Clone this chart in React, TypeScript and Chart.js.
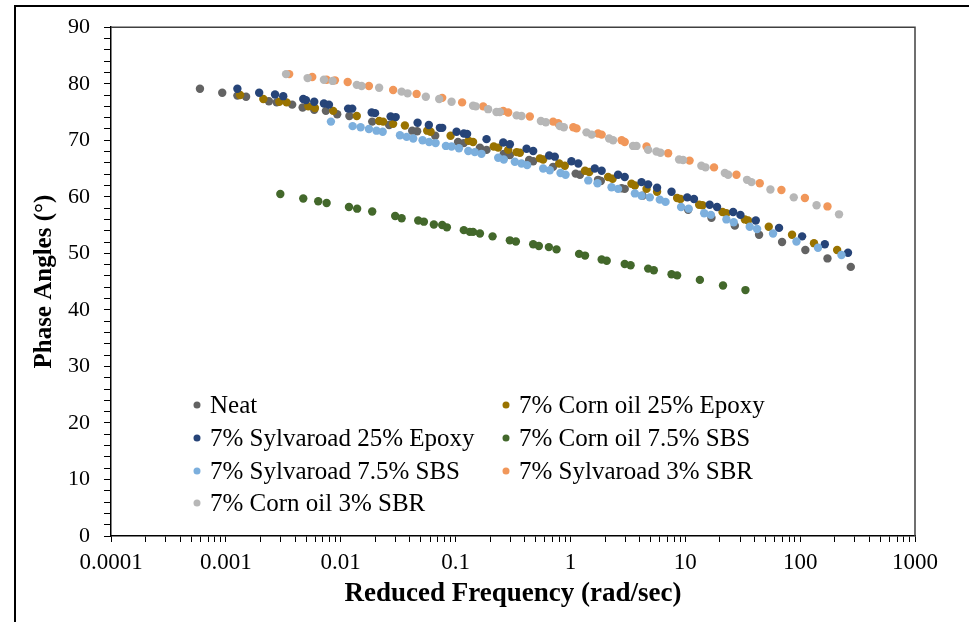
import React, { useEffect, useRef } from "react";
import { Chart, registerables } from "chart.js";

Chart.register(...registerables);

const FONT = '"Liberation Serif", "Times New Roman", serif';

const seriesNames = [
  "Neat",
  "7% Corn oil 25% Epoxy",
  "7% Sylvaroad 25% Epoxy",
  "7% Corn oil 7.5% SBS",
  "7% Sylvaroad 7.5% SBS",
  "7% Sylvaroad 3% SBR",
  "7% Corn oil 3% SBR",
];
const seriesColors = ["#636363", "#997300", "#264478", "#43682B", "#7CAFDD", "#F1975A", "#B7B7B7"];

const neatX = [0.000595, 0.00093, 0.00126, 0.0015, 0.00237, 0.00277, 0.00378, 0.00466, 0.00588, 0.00743, 0.00932, 0.0119, 0.0188, 0.0264, 0.0419, 0.0463, 0.0665, 0.105, 0.118, 0.163, 0.186, 0.263, 0.297, 0.437, 0.474, 0.707, 1.11, 1.21, 1.74, 1.84, 2.79, 2.97, 4.24, 10.6, 16.9, 27.0, 43.9, 69.6, 111, 173, 276];
const neatY = [79.1, 78.4, 77.9, 77.7, 76.9, 76.7, 76.3, 75.8, 75.4, 75.2, 74.6, 74.3, 73.3, 72.7, 71.7, 71.6, 70.8, 69.7, 69.5, 68.7, 68.3, 67.6, 67.4, 66.5, 66.3, 65.3, 64.1, 63.9, 63.0, 62.8, 61.5, 61.4, 60.2, 57.7, 56.3, 54.9, 53.3, 52.0, 50.6, 49.1, 47.6];

const cornEpoxyX = [0.00133, 0.00212, 0.00292, 0.00338, 0.00522, 0.00596, 0.0086, 0.0138, 0.0216, 0.0234, 0.0286, 0.0362, 0.0566, 0.0606, 0.0905, 0.130, 0.142, 0.215, 0.235, 0.287, 0.340, 0.363, 0.542, 0.579, 0.798, 0.894, 1.34, 1.46, 2.13, 2.33, 3.40, 3.64, 4.60, 5.68, 8.49, 9.08, 13.2, 14.1, 21.1, 22.8, 33.0, 35.2, 53.3, 85.0, 132, 210];
const cornEpoxyY = [78.0, 77.3, 76.8, 76.7, 76.0, 75.7, 75.2, 74.3, 73.4, 73.3, 72.9, 72.6, 71.7, 71.5, 70.8, 69.9, 69.7, 68.9, 68.7, 68.3, 67.9, 67.8, 66.8, 66.6, 65.9, 65.5, 64.6, 64.4, 63.5, 63.2, 62.3, 62.0, 61.4, 60.9, 59.8, 59.6, 58.6, 58.5, 57.3, 57.1, 56.0, 55.8, 54.7, 53.3, 51.8, 50.6];

const sylEpoxyX = [0.00126, 0.00195, 0.00268, 0.00316, 0.00472, 0.00498, 0.00588, 0.00714, 0.0079, 0.0116, 0.0126, 0.0186, 0.0199, 0.0272, 0.0301, 0.0467, 0.0585, 0.0730, 0.0765, 0.102, 0.118, 0.126, 0.186, 0.260, 0.297, 0.415, 0.474, 0.653, 0.731, 1.02, 1.17, 1.63, 1.87, 2.60, 2.97, 4.16, 4.75, 5.68, 7.59, 10.4, 11.9, 16.3, 18.9, 26.1, 30.2, 41.1, 65.5, 104, 164, 261];
const sylEpoxyY = [79.1, 78.4, 78.1, 77.8, 77.3, 77.1, 76.8, 76.5, 76.3, 75.6, 75.6, 74.9, 74.8, 74.2, 74.1, 73.1, 72.7, 72.2, 72.2, 71.5, 71.2, 71.1, 70.2, 69.6, 69.3, 68.5, 68.1, 67.3, 67.1, 66.3, 65.9, 65.0, 64.6, 63.9, 63.5, 62.6, 62.2, 61.6, 60.9, 59.9, 59.6, 58.6, 58.2, 57.3, 56.8, 55.8, 54.5, 53.0, 51.6, 50.1];

const cornSbsX = [0.00298, 0.00472, 0.00637, 0.00754, 0.0118, 0.0139, 0.0188, 0.0298, 0.0339, 0.0473, 0.0530, 0.0647, 0.0765, 0.0840, 0.118, 0.133, 0.142, 0.163, 0.210, 0.297, 0.335, 0.474, 0.531, 0.649, 0.757, 1.19, 1.34, 1.87, 2.07, 2.97, 3.34, 4.75, 5.32, 7.59, 8.49, 13.4, 21.3, 33.4];
const cornSbsY = [60.5, 59.7, 59.2, 58.9, 58.2, 57.9, 57.4, 56.6, 56.2, 55.8, 55.6, 55.1, 55.0, 54.6, 54.1, 53.8, 53.8, 53.5, 53.0, 52.3, 52.1, 51.6, 51.3, 51.1, 50.7, 49.9, 49.6, 48.9, 48.7, 48.1, 47.9, 47.3, 47.0, 46.3, 46.1, 45.3, 44.3, 43.5];

const sylSbsX = [0.00822, 0.0127, 0.0149, 0.0176, 0.0205, 0.0232, 0.0328, 0.0375, 0.0428, 0.0516, 0.0589, 0.0670, 0.0824, 0.0923, 0.107, 0.129, 0.147, 0.168, 0.235, 0.263, 0.328, 0.375, 0.420, 0.579, 0.662, 0.820, 0.907, 1.43, 1.72, 2.28, 2.60, 3.64, 4.16, 4.91, 6.00, 6.73, 9.19, 10.7, 14.6, 16.7, 22.8, 26.4, 36.4, 42.2, 58.1, 92.9, 143, 229];
const sylSbsY = [73.3, 72.5, 72.3, 72.0, 71.7, 71.5, 70.9, 70.6, 70.3, 70.0, 69.7, 69.5, 69.0, 68.9, 68.6, 68.1, 67.9, 67.6, 66.9, 66.6, 66.2, 65.9, 65.6, 65.0, 64.7, 64.2, 63.9, 62.9, 62.4, 61.7, 61.4, 60.6, 60.2, 59.9, 59.5, 59.1, 58.2, 57.9, 57.1, 56.8, 56.0, 55.5, 54.7, 54.3, 53.5, 52.1, 51.0, 49.7];

const sylSbrX = [0.00356, 0.00565, 0.00754, 0.0089, 0.0115, 0.0176, 0.0286, 0.0458, 0.0765, 0.114, 0.174, 0.260, 0.287, 0.443, 0.707, 0.782, 1.06, 1.13, 1.74, 1.87, 2.79, 2.97, 4.60, 7.09, 10.9, 17.8, 27.9, 44.5, 68.7, 110, 173];
const sylSbrY = [81.7, 81.2, 80.7, 80.6, 80.3, 79.6, 78.9, 78.2, 77.5, 76.7, 76.0, 75.2, 74.9, 74.2, 73.3, 73.0, 72.3, 72.1, 71.2, 71.0, 70.0, 69.7, 68.9, 67.7, 66.4, 65.2, 63.9, 62.4, 61.2, 59.8, 58.3];

const cornSbrX = [0.00334, 0.00515, 0.00714, 0.0085, 0.0138, 0.0152, 0.0216, 0.0339, 0.0382, 0.0551, 0.0720, 0.0923, 0.142, 0.150, 0.192, 0.227, 0.243, 0.340, 0.375, 0.553, 0.611, 0.809, 0.876, 1.38, 1.53, 2.17, 2.35, 3.51, 3.76, 4.75, 5.61, 6.08, 8.83, 9.57, 13.8, 15.0, 22.1, 23.6, 34.5, 37.7, 55.1, 88.0, 139, 218];
const cornSbrY = [81.7, 81.0, 80.7, 80.5, 79.8, 79.6, 79.3, 78.6, 78.3, 77.7, 77.3, 76.8, 76.1, 76.0, 75.5, 75.0, 75.0, 74.4, 74.3, 73.4, 73.2, 72.5, 72.3, 71.4, 71.0, 70.3, 70.0, 69.0, 69.0, 68.3, 68.0, 67.8, 66.6, 66.5, 65.5, 65.2, 64.2, 63.9, 63.0, 62.6, 61.3, 59.9, 58.5, 56.9];

const seriesX = [neatX, cornEpoxyX, sylEpoxyX, cornSbsX, sylSbsX, sylSbrX, cornSbrX];
const seriesY = [neatY, cornEpoxyY, sylEpoxyY, cornSbsY, sylSbsY, sylSbrY, cornSbrY];

const xDecades = [0.0001, 0.001, 0.01, 0.1, 1, 10, 100, 1000];
const xDecadeLabels = ["0.0001", "0.001", "0.01", "0.1", "1", "10", "100", "1000"];
const yMin = 0;
const yMax = 90;
const yMajorStep = 10;
const yMinorStep = 2;

const xTickValues: number[] = [];
for (let d = 0; d < xDecades.length - 1; d++) {
  for (let k = 1; k <= 9; k++) xTickValues.push(k * xDecades[d]);
}
xTickValues.push(xDecades[xDecades.length - 1]);

const legendColX = [197, 506];
const legendRowY = [405, 438, 471, 503];

export default function App() {
  const ref = useRef<HTMLCanvasElement>(null);

  useEffect(() => {
    if (!ref.current) return;
    const datasets = seriesNames.map((name, i) => ({
      label: name,
      data: seriesX[i].map((x, j) => ({ x, y: seriesY[i][j] })),
      backgroundColor: seriesColors[i],
      borderColor: seriesColors[i],
      pointRadius: 4.2,
      pointHoverRadius: 4.2,
      pointBorderWidth: 0,
      showLine: false,
      order: -i,
    }));

    const legendPlugin = {
      id: "customLegend",
      afterDatasetsDraw(chart: any) {
        const ctx = chart.ctx;
        ctx.save();
        ctx.font = `25px ${FONT}`;
        ctx.textBaseline = "middle";
        ctx.textAlign = "left";
        chart.data.datasets.forEach((ds: any, i: number) => {
          const col = i % 2;
          const row = Math.floor(i / 2);
          const mx = legendColX[col];
          const my = legendRowY[row];
          ctx.fillStyle = ds.backgroundColor;
          ctx.beginPath();
          ctx.arc(mx, my, 3.5, 0, Math.PI * 2);
          ctx.fill();
          ctx.fillStyle = "#000";
          ctx.fillText(ds.label, mx + 13, my + 1);
        });
        ctx.restore();
      },
    };

    const framePlugin = {
      id: "plotFrame",
      afterDraw(chart: any) {
        const { left, top, right, bottom } = chart.chartArea;
        const ctx = chart.ctx;
        ctx.save();
        ctx.strokeStyle = "#404040";
        ctx.lineWidth = 1.5;
        ctx.beginPath();
        ctx.moveTo(left, top);
        ctx.lineTo(right, top);
        ctx.lineTo(right, bottom);
        ctx.stroke();
        ctx.restore();
      },
    };

    const chart = new Chart(ref.current, {
      type: "scatter",
      data: { datasets },
      plugins: [legendPlugin, framePlugin],
      options: {
        animation: false,
        responsive: false,
        layout: { padding: { left: 0, right: 54, top: 25, bottom: 0 } },
        plugins: {
          legend: { display: false },
          tooltip: { enabled: false },
        },
        scales: {
          x: {
            type: "logarithmic",
            min: xDecades[0],
            max: xDecades[xDecades.length - 1],
            afterBuildTicks: (scale: any) => {
              scale.ticks = xTickValues.map((v) => ({ value: v }));
            },
            afterFit: (scale: any) => {
              scale.height = 86;
            },
            ticks: {
              autoSkip: false,
              maxRotation: 0,
              minRotation: 0,
              color: "#000",
              padding: 7,
              font: { family: FONT, size: 23 },
              callback: (value: any) => {
                const idx = xDecades.findIndex((d) => Math.abs(d - Number(value)) / d < 1e-6);
                return idx >= 0 ? xDecadeLabels[idx] : "";
              },
            },
            grid: { display: true, drawOnChartArea: false, drawTicks: true, tickLength: 6, color: "#000", lineWidth: 1 },
            border: { display: true, color: "#000", width: 1.5 },
            title: {
              display: true,
              text: "Reduced Frequency (rad/sec)",
              color: "#000",
              font: { family: FONT, size: 27, weight: "bold" },
              padding: { top: 0, bottom: 12 },
            },
          },
          y: {
            min: yMin,
            max: yMax,
            afterFit: (scale: any) => {
              scale.width = 111;
            },
            ticks: {
              stepSize: yMinorStep,
              autoSkip: false,
              color: "#000",
              padding: 14,
              font: { family: FONT, size: 22 },
              callback: (value: any) => (Number(value) % yMajorStep === 0 ? String(value) : ""),
            },
            grid: { display: true, drawOnChartArea: false, drawTicks: true, tickLength: 7, color: "#000", lineWidth: 1 },
            border: { display: true, color: "#000", width: 1.5 },
            title: {
              display: true,
              text: "Phase Angles (°)",
              color: "#000",
              font: { family: FONT, size: 25, weight: "bold" },
              padding: { top: 30, bottom: 0 },
            },
          },
        },
      } as any,
    });
    return () => chart.destroy();
  }, []);

  return (
    <div style={{ position: "absolute", left: 0, top: 0, width: 969, height: 622, overflow: "hidden", background: "#fff" }}>
      <canvas ref={ref} width={969} height={622} style={{ position: "absolute", left: 0, top: 0 }} />
      <div
        style={{
          position: "absolute",
          left: 14,
          top: 5,
          width: 1200,
          height: 1000,
          borderLeft: "2px solid #000",
          borderTop: "2px solid #000",
          pointerEvents: "none",
        }}
      />
    </div>
  );
}
